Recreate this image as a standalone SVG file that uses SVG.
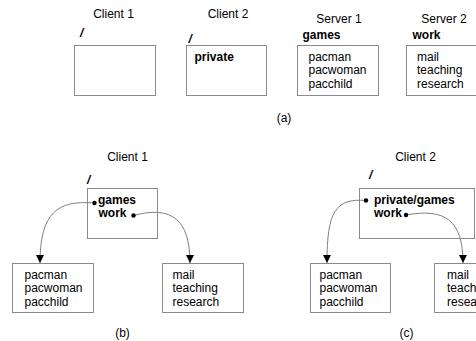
<svg xmlns="http://www.w3.org/2000/svg" width="476" height="341" viewBox="0 0 476 341">
<style>
text{font-family:"Liberation Sans",Arial,sans-serif;font-size:12px;fill:#000}
.b{font-weight:bold}
.sl{font-weight:bold;font-style:italic}
.box{fill:#fff;stroke:#8a8a8a;stroke-width:1}
.con{fill:none;stroke:#808080;stroke-width:1}
.dot{fill:#000}
.m{text-anchor:middle}
</style>
<defs>
<marker id="ah" markerUnits="userSpaceOnUse" markerWidth="9" markerHeight="9" refX="8" refY="4" orient="auto">
<path d="M0,0 L8,4 L0,8 z" fill="#000"/>
</marker>
</defs>
<rect width="476" height="341" fill="#fff"/>

<!-- (a) -->
<g id="a-client1">
<text class="m" x="113.5" y="18">Client 1</text>
<text class="sl" x="80" y="36.5">/</text>
<rect class="box" x="74.5" y="45.5" width="81" height="50"/>
</g>
<g id="a-client2">
<text class="m" x="228" y="17.5">Client 2</text>
<text class="sl" x="188.5" y="43">/</text>
<rect class="box" x="186.5" y="45.5" width="80" height="50"/>
<text class="b" x="194.5" y="61">private</text>
</g>
<g id="a-server1">
<text class="m" x="339" y="23">Server 1</text>
<text class="b" x="302.5" y="38.5">games</text>
<rect class="box" x="297.5" y="45.5" width="81" height="50"/>
<text x="308.5" y="61">pacman</text>
<text x="308.5" y="74.3">pacwoman</text>
<text x="308.5" y="87.6">pacchild</text>
</g>
<g id="a-server2">
<text class="m" x="444" y="23">Server 2</text>
<text class="b" x="412.5" y="38.5">work</text>
<rect class="box" x="406.5" y="45.5" width="81" height="50"/>
<text x="417" y="61">mail</text>
<text x="417" y="74.3">teaching</text>
<text x="417" y="87.6">research</text>
</g>
<text id="label-a" class="m" x="284" y="121.5">(a)</text>

<!-- (b) -->
<g id="b-client1">
<text class="m" x="127.5" y="160.5">Client 1</text>
<text class="sl" x="87" y="184">/</text>
<rect class="box" x="87.5" y="188.5" width="70" height="50"/>
<text class="b" x="98" y="204">games</text>
<text class="b" x="98.5" y="217.3">work</text>
</g>
<g id="b-games">
<rect class="box" x="12.5" y="263.5" width="81" height="49"/>
<text x="24.5" y="279">pacman</text>
<text x="24.5" y="292.3">pacwoman</text>
<text x="24.5" y="305.6">pacchild</text>
</g>
<g id="b-work">
<rect class="box" x="162.5" y="263.5" width="81" height="49"/>
<text x="172.5" y="279">mail</text>
<text x="172.5" y="292.3">teaching</text>
<text x="172.5" y="305.6">research</text>
</g>
<text id="label-b" class="m" x="122.5" y="336.5">(b)</text>

<!-- (c) -->
<g id="c-client2">
<text class="m" x="415.5" y="160.5">Client 2</text>
<text class="sl" x="369" y="179">/</text>
<rect class="box" x="359.5" y="188.5" width="115" height="50"/>
<text class="b" x="374" y="204">private/games</text>
<text class="b" x="374" y="217.3">work</text>
</g>
<g id="c-games">
<rect class="box" x="310.5" y="263.5" width="80" height="49"/>
<text x="319.5" y="279">pacman</text>
<text x="319.5" y="292.3">pacwoman</text>
<text x="319.5" y="305.6">pacchild</text>
</g>
<g id="c-work">
<rect class="box" x="434.5" y="263.5" width="81" height="49"/>
<text x="447" y="279">mail</text>
<text x="447" y="292.3">teaching</text>
<text x="447" y="305.6">research</text>
</g>
<text id="label-c" class="m" x="406.5" y="336.5">(c)</text>

<g id="connectors">
<path class="con" d="M94.5,203 C58,200 40,212 40,263" marker-end="url(#ah)"/>
<path class="con" d="M133.5,215.5 C172,205 190,220 190,263" marker-end="url(#ah)"/>
<path class="con" d="M366,200.5 C335,198 327,212 327,263" marker-end="url(#ah)"/>
<path class="con" d="M406,215 C445,208 463,220 463,263" marker-end="url(#ah)"/>
<circle class="dot" cx="94.5" cy="203" r="2.2"/>
<circle class="dot" cx="133.5" cy="215.5" r="2.2"/>
<circle class="dot" cx="366" cy="200.5" r="2.2"/>
<circle class="dot" cx="406" cy="215" r="2.2"/>
</g>
</svg>
